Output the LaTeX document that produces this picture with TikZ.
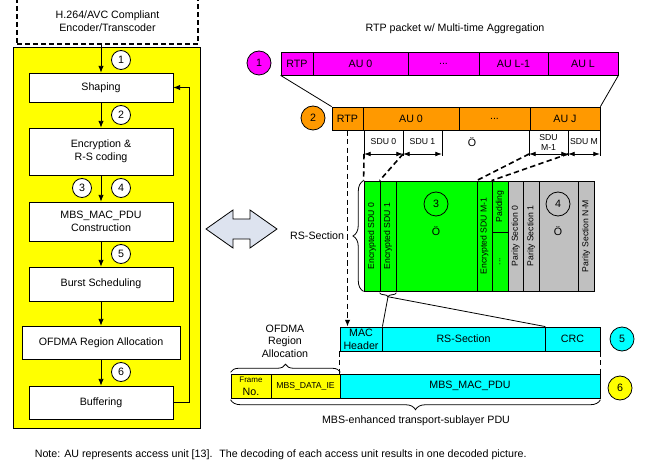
\documentclass[tikz,border=0pt]{standalone}
\usepackage{fontspec}
\setmainfont{Liberation Sans}
\usetikzlibrary{decorations.pathreplacing,arrows.meta}
\definecolor{aumagenta}{HTML}{FF00FF}
\definecolor{auorange}{HTML}{FF9900}
\definecolor{sdugreen}{HTML}{00FF00}
\definecolor{paritygray}{HTML}{C0C0C0}
\definecolor{pducyan}{HTML}{00FFFF}
\definecolor{panelyellow}{HTML}{FFFF00}
\definecolor{arrowblue}{HTML}{DDE3EF}
% name, x1, x2, y1, y2, fill, text
\newcommand{\cellbox}[7]{%
  \node[cell, fill=#6, minimum width={(#3-#2)*0.75pt}, minimum height={(#5-#4)*0.75pt}]
    (#1) at ({(#2+#3)/2},{(#4+#5)/2}) {#7};}
\begin{document}
\begin{tikzpicture}[
			x=0.75pt, y=-0.75pt, line width=0.6pt,
			font=\fontsize{8}{9.5}\selectfont, align=center,
			stepbox/.style={draw, fill=white, inner sep=0pt, minimum width=108pt},
			cell/.style={draw, inner sep=0pt},
			small/.style={font=\fontsize{6.5}{7.5}\selectfont},
			num/.style={draw, circle, fill=white, inner sep=0pt, minimum size=14.25pt},
			bignum/.style={draw, circle, inner sep=0pt, minimum size=18pt},
			arr/.style={-{Latex[length=5pt,width=4pt]}},
			dimarr/.style={{Latex[length=5pt,width=3.5pt]}-{Latex[length=5pt,width=3.5pt]}},
			dsh/.style={dash pattern=on 4pt off 2.5pt, line width=1.2pt},
			brc/.style={decorate, decoration={brace, amplitude=#1}},
			]
			\clip (0,0) rectangle (645,466);
			% left column
			\node[draw, dash pattern=on 3.5pt off 2.5pt, line width=1pt, minimum width=135.75pt, minimum height=34.5pt] (encoder) at (107.5,21) {H.264/AVC Compliant\\Encoder/Transcoder};
			\node[draw, fill=panelyellow, minimum width=140.25pt, minimum height=285.75pt] (panel) at (106.5,237.5) {};
			\node[stepbox, minimum height=21.75pt] (shaping) at (101,87.5) {Shaping};
			\node[stepbox, minimum height=35.25pt] (enc) at (101,151.5) {Encryption \&\\R-S coding};
			\node[stepbox, minimum height=29.25pt] (mbs) at (101,221.5) {MBS\_MAC\_PDU\\Construction};
			\node[stepbox, minimum height=25.5pt] (burst) at (101,284) {Burst Scheduling};
			\node[stepbox, minimum width=118.5pt, minimum height=24.75pt] (ofdma) at (101,342.5) {OFDMA Region Allocation};
			\node[stepbox, minimum height=24.75pt] (buffer) at (101,402.5) {Buffering};
			\draw[arr] (encoder.south -| shaping.north) -- (shaping.north);
			\draw[arr] (shaping) -- (enc);
			\draw[arr] (enc) -- (mbs);
			\draw[arr] (mbs) -- (burst);
			\draw[arr] (burst) -- (ofdma);
			\draw[arr] (ofdma) -- (buffer);
			\draw[arr] (buffer.east) -- ++(16,0) |- (shaping.east);
			\node[num] (n1) at (121,60) {1};
			\node[num] (n2) at (121,115) {2};
			\node[num] (n3) at (82,188) {3};
			\node[num] (n4) at (121,188) {4};
			\node[num] (n5) at (121,254) {5};
			\node[num] (n6) at (121,372) {6};
			% double arrow
			\draw[fill=arrowblue] (206,229) -- (233,210) -- (233,219) -- (250,219) -- (250,210) -- (277,229)
				-- (250,248) -- (250,239) -- (233,239) -- (233,248) -- cycle;
			% RTP packets
			\node (title) at (455,29) {RTP packet w/ Multi-time Aggregation};
			\cellbox{p1rtp}{281}{313}{52}{75}{aumagenta}{RTP}
			\cellbox{p1au0}{313}{408}{52}{75}{aumagenta}{AU 0}
			\cellbox{p1dots}{408}{479}{52}{75}{aumagenta}{...}
			\cellbox{p1aul1}{479}{548}{52}{75}{aumagenta}{AU L-1}
			\cellbox{p1aul}{548}{618}{52}{75}{aumagenta}{AU L}
			\node[bignum, fill=aumagenta] (c1) at (259,63) {1};
			\cellbox{p2rtp}{332}{363}{107}{130}{auorange}{RTP}
			\cellbox{p2au0}{363}{459}{107}{130}{auorange}{AU 0}
			\cellbox{p2dots}{459}{530}{107}{130}{auorange}{...}
			\cellbox{p2auj}{530}{600}{107}{130}{auorange}{AU J}
			\node[bignum, fill=auorange] (c2) at (313,118) {2};
			\draw (p1rtp.south west) -- (p2rtp.north west);
			\draw (p1aul.south east) -- (p2auj.north east);
			% SDUs
			\coordinate (s0) at (364,154);
			\coordinate (s1) at (403,154);
			\coordinate (s2) at (442,154);
			\coordinate (sm1) at (529,154);
			\coordinate (sm) at (568,154);
			\coordinate (se) at (600,154);
			\foreach \c in {s0,s1,s2,sm1,sm,se}
				\draw (\c |- p2au0.south) -- ([yshift=-1.5pt]\c);
			\draw[dimarr] (s0) -- (s1);
			\draw[dimarr] (s1) -- (s2);
			\draw[dimarr] (sm1) -- (sm);
			\draw[dimarr] (sm) -- (se);
			\node[small] (lsdu0) at (383.5,142) {SDU 0};
			\node[small] (lsdu1) at (422.5,142) {SDU 1};
			\node (lsdudots) at (472,142) {Ö};
			\node[small] (lsdum1) at (548.5,142) {SDU\\M-1};
			\node[small] (lsdum) at (584,142) {SDU M};
			% RS section
			\cellbox{esdu0}{364}{380}{181}{291}{sdugreen}{}
			\cellbox{esdu1}{380}{396}{181}{291}{sdugreen}{}
			\cellbox{emid}{396}{477}{181}{291}{sdugreen}{}
			\cellbox{esdum}{477}{492}{181}{291}{sdugreen}{}
			\cellbox{pad}{492}{508}{181}{232}{sdugreen}{}
			\cellbox{paddots}{492}{508}{232}{291}{sdugreen}{}
			\cellbox{par0}{508}{523}{181}{291}{paritygray}{}
			\cellbox{par1}{523}{539}{181}{291}{paritygray}{}
			\cellbox{pmid}{539}{578}{181}{291}{paritygray}{}
			\cellbox{parnm}{578}{594}{181}{291}{paritygray}{}
			\node[small, rotate=90] at (esdu0) {Encrypted SDU 0};
			\node[small, rotate=90] at (esdu1) {Encrypted SDU 1};
			\node[small, rotate=90] at (esdum) {Encrypted SDU M-1};
			\node[small, rotate=90] at (pad) {Padding};
			\node[small, rotate=90] at (paddots) {...};
			\node[small, rotate=90] at (par0) {Parity Section 0};
			\node[small, rotate=90] at (par1) {Parity Section 1};
			\node[small, rotate=90] at (parnm) {Parity Section N-M};
			\node[bignum] (c3) at (436,204) {3};
			\node (l3dots) at (436,231) {Ö};
			\node[bignum] (c4) at (558,204) {4};
			\node (l4dots) at (558,231) {Ö};
			\draw[brc=8pt] (esdu0.south west) -- (esdu0.north west)
				node[midway, anchor=east, xshift=-11pt] (rslabel) {RS-Section};
			\draw[dsh] (s0) -- (esdu0.north west);
			\draw[dsh] (s1) -- (esdu1.north west);
			\draw[dsh] (sm1) -- (esdum.north west);
			\draw[dsh] (sm) -- (pad.north west);
			% MAC PDU
			\cellbox{machdr}{340}{382}{327}{351}{pducyan}{MAC\\Header}
			\cellbox{rssec}{382}{545}{327}{351}{pducyan}{RS-Section}
			\cellbox{crc}{545}{600}{327}{351}{pducyan}{CRC}
			\node[bignum, fill=pducyan] (c5) at (622,339) {5};
			\draw[dsh, arr] (p2rtp.south) -- (p2rtp.south |- machdr.north);
			\draw[brc=3pt] ([yshift=-1pt]esdu1.south east) -- ([yshift=-1pt]esdu1.south west);
			\coordinate (brtip) at ([yshift=-4pt]esdu1.south);
			\draw (brtip) -- (machdr.north east);
			\draw (brtip) -- (rssec.north east);
			% transport PDU
			\cellbox{frameno}{231}{271}{374}{398}{panelyellow}{\fontsize{6}{6.5}\selectfont Frame\\No.}
			\cellbox{dataie}{271}{340}{374}{398}{panelyellow}{\fontsize{6.5}{7}\selectfont MBS\_DATA\_IE}
			\cellbox{macpdu}{340}{600}{374}{398}{pducyan}{MBS\_MAC\_PDU}
			\node[bignum, fill=panelyellow] (c6) at (620,388) {6};
			\draw[dsh] (machdr.south west) -- (macpdu.north west);
			\draw[dsh] (crc.south east) -- (macpdu.north east);
			\draw[brc=6pt] ([yshift=1pt]frameno.north west) -- ([yshift=1pt]dataie.north east);
			\node (ofdmalabel) at (285,341) {OFDMA\\Region\\Allocation};
			\draw[brc=7.5pt] ([yshift=-1pt]macpdu.south east) -- ([yshift=-1pt]frameno.south west);
			\node (pdulabel) at (416,421) {MBS-enhanced transport-sublayer PDU};
			\node[anchor=west] (note) at (30,455) {Note: AU represents access unit [13].~ The decoding of each access unit results in one decoded picture.};
		\end{tikzpicture}
\end{document}
